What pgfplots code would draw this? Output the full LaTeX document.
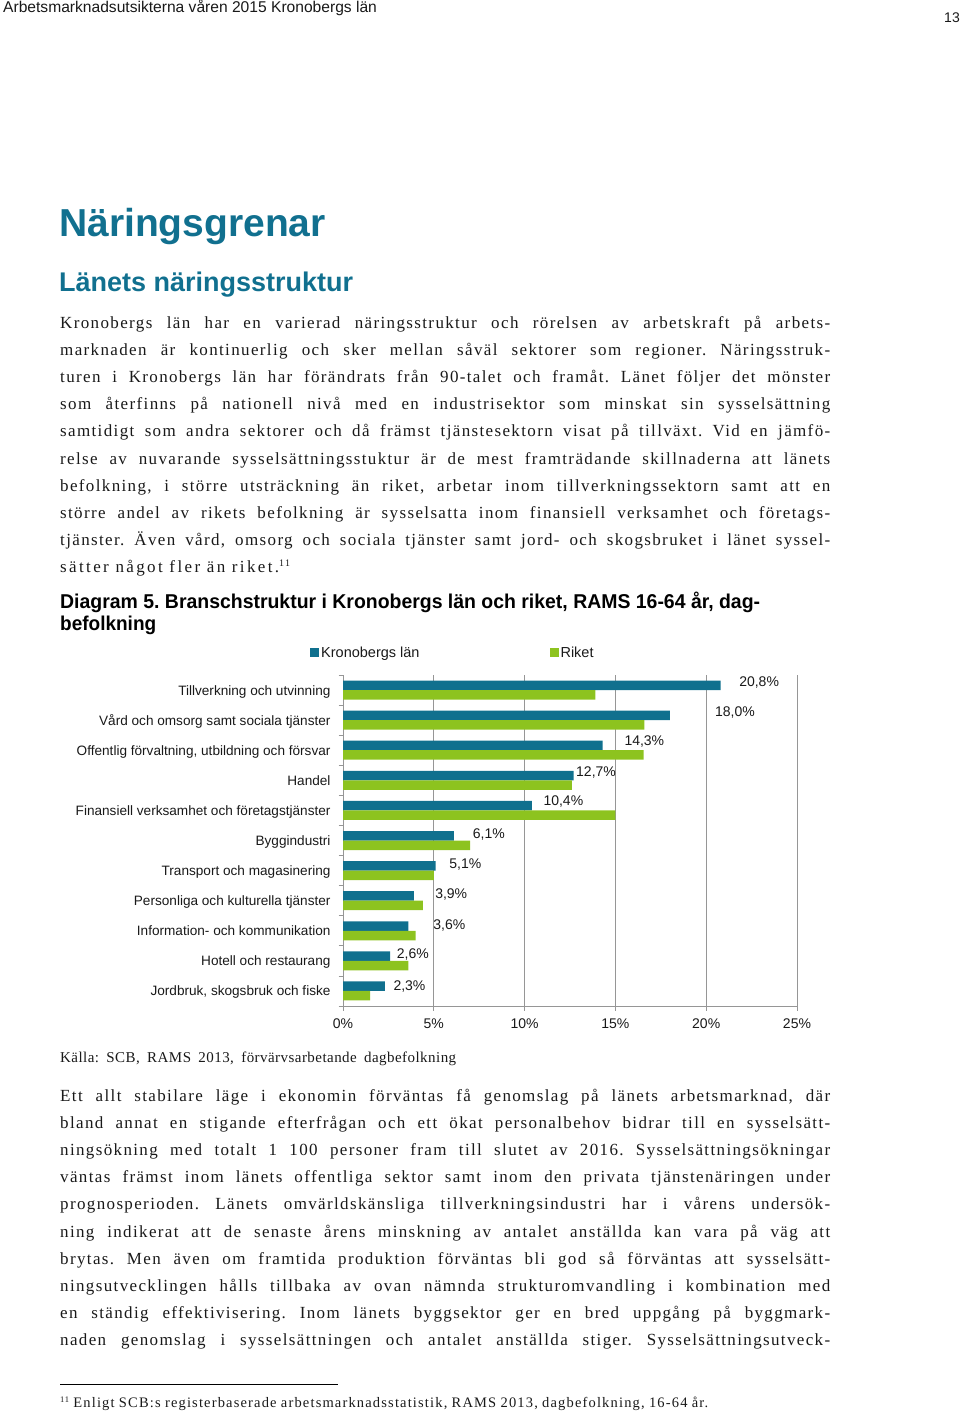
\documentclass[border=0pt]{standalone}
\usepackage{fontspec}
\setmainfont{Liberation Sans}
\newfontfamily\bodyfont[LetterSpace=8]{Liberation Serif}
\newfontfamily\srcfont[LetterSpace=3]{Liberation Serif}
\newfontfamily\lastfont[LetterSpace=14]{Liberation Serif}
\newfontfamily\sans{Liberation Sans}
\usepackage{graphicx}
\usepackage{pgfplots}
\pgfplotsset{compat=1.18}
\frenchspacing
\definecolor{kblue}{RGB}{16,112,142}
\definecolor{kgreen}{RGB}{141,195,31}
\definecolor{tblue}{RGB}{17,112,143}
\definecolor{gridgray}{RGB}{150,150,150}
\definecolor{txt}{RGB}{25,25,25}
\newcommand{\bl}[2]{\node[anchor=base west,inner sep=0pt,text=txt] at (60pt,-#1pt) {\bodyfont\fontsize{17}{20}\selectfont\makebox[770pt][s]{#2}};}
\pgfplotstableread{
y kron riket
10 20.8 13.9
9 18.0 16.6
8 14.3 16.55
7 12.7 12.6
6 10.4 15.0
5 6.1 7.0
4 5.1 5.0
3 3.9 4.4
2 3.6 4.0
1 2.6 3.6
0 2.3 1.5
}\datatable
\begin{document}
\frenchspacing
\begin{tikzpicture}
\path[use as bounding box] (0,0) rectangle (960pt,-1412pt);
% header
\node[anchor=base west,inner sep=0pt,text=txt] at (3pt,-13pt) {\sans\fontsize{15.6}{18}\selectfont Arbetsmarknadsutsikterna våren 2015 Kronobergs län};
\node[anchor=base east,inner sep=0pt,text=txt] at (960pt,-23pt) {\sans\fontsize{14}{16}\selectfont 13};
% headings
\node[anchor=base west,inner sep=0pt,text=tblue] at (59pt,-237pt) {\sans\bfseries\fontsize{39}{44}\selectfont Näringsgrenar};
\node[anchor=base west,inner sep=0pt,text=tblue] at (59pt,-292pt) {\sans\bfseries\fontsize{27}{32}\selectfont Länets näringsstruktur};
% paragraph 1
\bl{328}{Kronobergs län har en varierad näringsstruktur och rörelsen av arbetskraft på arbets-}
\bl{355.2}{marknaden är kontinuerlig och sker mellan såväl sektorer som regioner. Näringsstruk-}
\bl{382.4}{turen i Kronobergs län har förändrats från 90-talet och framåt. Länet följer det mönster}
\bl{409.6}{som återfinns på nationell nivå med en industrisektor som minskat sin sysselsättning}
\bl{436.8}{samtidigt som andra sektorer och då främst tjänstesektorn visat på tillväxt. Vid en jämfö-}
\bl{464}{relse av nuvarande sysselsättningsstuktur är de mest framträdande skillnaderna att länets}
\bl{491.2}{befolkning, i större utsträckning än riket, arbetar inom tillverkningssektorn samt att en}
\bl{518.4}{större andel av rikets befolkning är sysselsatta inom finansiell verksamhet och företags-}
\bl{545.6}{tjänster. Även vård, omsorg och sociala tjänster samt jord- och skogsbruket i länet syssel-}
\node[anchor=base west,inner sep=0pt,text=txt] at (60pt,-572.8pt) {\lastfont\fontsize{17}{20}\selectfont sätter något fler än riket.\raisebox{6pt}{\fontsize{10}{10}\selectfont 11}};
% diagram title
\node[anchor=base west,inner sep=0pt,text=black] at (60pt,-608pt) {\resizebox{700pt}{\height}{\sans\bfseries\fontsize{20}{24}\selectfont Diagram 5. Branschstruktur i Kronobergs län och riket, RAMS 16-64 år, dag-}};
\node[anchor=base west,inner sep=0pt,text=black] at (60pt,-630pt) {\resizebox{96pt}{\height}{\sans\bfseries\fontsize{20}{24}\selectfont befolkning}};
% chart
\begin{axis}[
  at={(343pt,-1006pt)}, anchor=south west,
  scale only axis, width=454pt, height=331pt,
  xbar, bar width=9.5pt,
  xmin=0, xmax=25, ymin=-0.5, ymax=10.5,
  axis x line*=bottom, axis y line*=left,
  axis line style={gridgray, line width=0.8pt, -},
  xtick={0,5,10,15,20,25},
  xticklabels={0\%,5\%,10\%,15\%,20\%,25\%},
  xmajorgrids, grid style={gridgray, line width=0.8pt},
  ytick={-0.5,0.5,...,10.5}, yticklabels={},
  extra y ticks={0,1,2,3,4,5,6,7,8,9,10},
  extra y tick labels={{Jordbruk, skogsbruk och fiske},Hotell och restaurang,Information- och kommunikation,Personliga och kulturella tjänster,Transport och magasinering,Byggindustri,Finansiell verksamhet och företagstjänster,Handel,{Offentlig förvaltning, utbildning och försvar},Vård och omsorg samt sociala tjänster,Tillverkning och utvinning},
  extra y tick style={major tick length=0pt, grid=none, yticklabel style={xshift=-9pt, yshift=-1.5pt, text height=9.8pt, text depth=2.9pt}},
  tick align=outside, major tick length=4.5pt,
  tick style={gridgray, line width=0.8pt},
  ticklabel style={font=\sans\fontsize{13.6}{16}\selectfont, text=txt},
  xticklabel style={font=\sans\fontsize{14}{16}\selectfont, yshift=-5pt},
  /pgf/number format/assume math mode=true,
  clip=false,
  legend columns=2,
  legend style={at={(axis description cs:-0.0727,1.0665)}, anchor=west, draw=none, fill=none, inner sep=0pt,
    font=\sans\fontsize{14.5}{17}\selectfont, text=txt,
    nodes={inner xsep=2pt, inner ysep=1pt},
    /tikz/every even column/.append style={column sep=128pt}},
  legend image code/.code={\fill[#1,draw=none] (0pt,-4.5pt) rectangle (9pt,4.5pt);},
]
\addplot[fill=kblue, draw=none, bar shift=4.75pt] table[x=kron, y=y] {\datatable};
\addplot[fill=kgreen, draw=none, bar shift=-4.75pt] table[x=riket, y=y] {\datatable};
\legend{Kronobergs län, Riket}
\begin{scope}[every node/.style={anchor=west, inner sep=0pt, font=\sans\fontsize{14}{16}\selectfont, text=txt}]
\node at (axis cs:21.81,10.24) {20,8\%};
\node at (axis cs:20.48,9.25) {18,0\%};
\node at (axis cs:15.49,8.29) {14,3\%};
\node at (axis cs:12.83,7.26) {12,7\%};
\node at (axis cs:11.03,6.30) {10,4\%};
\node at (axis cs:7.14,5.19) {6,1\%};
\node at (axis cs:5.85,4.20) {5,1\%};
\node at (axis cs:5.07,3.21) {3,9\%};
\node at (axis cs:4.97,2.16) {3,6\%};
\node at (axis cs:2.96,1.22) {2,6\%};
\node at (axis cs:2.77,0.15) {2,3\%};
\end{scope}
\end{axis}
% source
\node[anchor=base west,inner sep=0pt,text=txt] at (60pt,-1062pt) {\srcfont\fontsize{15}{18}\selectfont\makebox[396pt][s]{Källa: SCB, RAMS 2013, förvärvsarbetande dagbefolkning}};
% paragraph 2
\bl{1101}{Ett allt stabilare läge i ekonomin förväntas få genomslag på länets arbetsmarknad, där}
\bl{1128.2}{bland annat en stigande efterfrågan och ett ökat personalbehov bidrar till en sysselsätt-}
\bl{1155.4}{ningsökning med totalt 1 100 personer fram till slutet av 2016. Sysselsättningsökningar}
\bl{1182.6}{väntas främst inom länets offentliga sektor samt inom den privata tjänstenäringen under}
\bl{1209.8}{prognosperioden. Länets omvärldskänsliga tillverkningsindustri har i vårens undersök-}
\bl{1237}{ning indikerat att de senaste årens minskning av antalet anställda kan vara på väg att}
\bl{1264.2}{brytas. Men även om framtida produktion förväntas bli god så förväntas att sysselsätt-}
\bl{1291.4}{ningsutvecklingen hålls tillbaka av ovan nämnda strukturomvandling i kombination med}
\bl{1318.6}{en ständig effektivisering. Inom länets byggsektor ger en bred uppgång på byggmark-}
\bl{1345.8}{naden genomslag i sysselsättningen och antalet anställda stiger. Sysselsättningsutveck-}
% footnote
\draw[black, line width=0.8pt] (60pt,-1384pt) -- (338pt,-1384pt);
\node[anchor=base west,inner sep=0pt,text=txt] at (60pt,-1407pt) {\bodyfont\fontsize{14.5}{17}\selectfont\makebox[648pt][s]{\raisebox{5pt}{\fontsize{8.5}{9}\selectfont 11} Enligt SCB:s registerbaserade arbetsmarknadsstatistik, RAMS 2013, dagbefolkning, 16-64 år.}};
\end{tikzpicture}
\end{document}
